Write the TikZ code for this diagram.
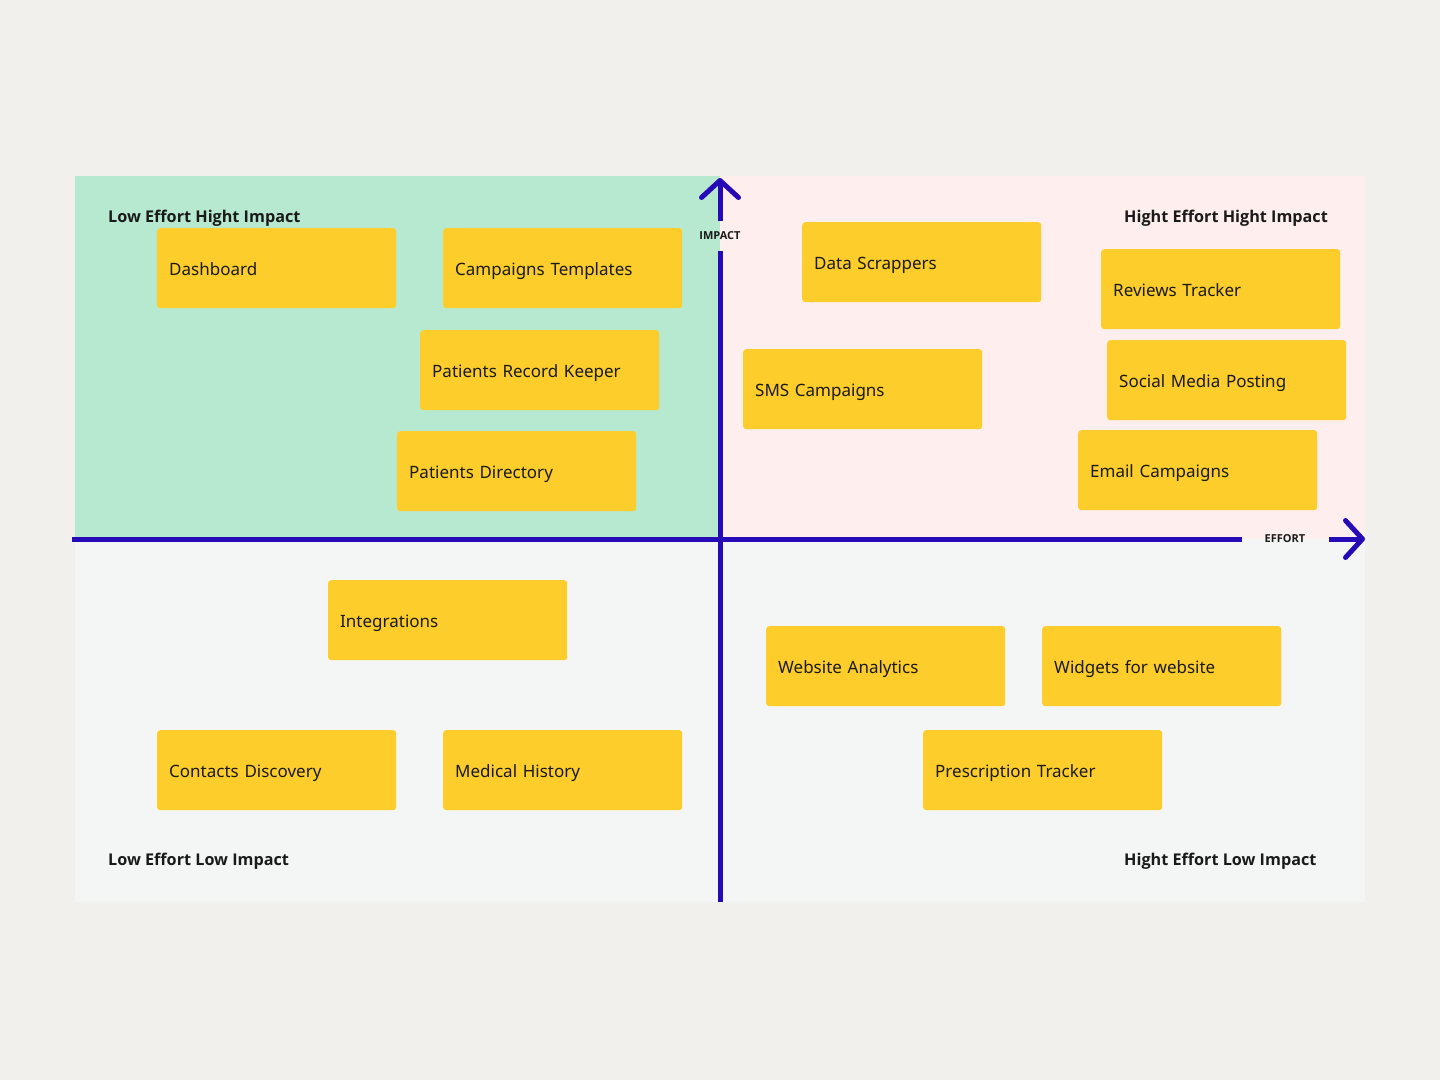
\documentclass[tikz,border=0pt]{standalone}
\usepackage{fontspec}
\setmainfont{Noto Sans}
\newfontfamily\titlefam{Open Sans}
\usetikzlibrary{arrows.meta}
\definecolor{bgc}{RGB}{242,240,237}
\definecolor{greenq}{RGB}{182,233,208}
\definecolor{pinkq}{RGB}{255,238,238}
\definecolor{greyq}{RGB}{243,246,244}
\definecolor{yel}{RGB}{253,205,43}
\definecolor{axisc}{RGB}{38,10,184}
\definecolor{ink}{RGB}{26,26,26}
\tikzset{
  sticky/.style={fill=yel, rounded corners=3pt, anchor=north west,
    minimum width=239pt, minimum height=80pt, text width=215pt,
    inner xsep=12pt, align=left, text=ink, text height=17pt, text depth=2pt,
    font=\fontsize{17}{20}\selectfont},
  qtitle/.style={anchor=base west, text=ink, inner sep=0pt,
    font=\titlefam\bfseries\fontsize{16.2}{20}\selectfont},
  axlabel/.style={text=ink, inner sep=0pt, font=\titlefam\bfseries\fontsize{11}{13}\selectfont},
  axisline/.style={draw=axisc, line width=5pt},
  axistip/.style={axisline, -{Straight Barb[length=17pt,width=37pt,round]}}
}
\begin{document}
\begin{tikzpicture}[x=1pt,y=-1pt]
\useasboundingbox (0,0) rectangle (1440,1080);
\fill[bgc] (0,0) rectangle (1440,1080);
\fill[greenq] (75,176) rectangle (720,539);
\fill[pinkq] (720,176) rectangle (1365,539);
\fill[greyq] (75,539) rectangle (1365,902);

% quadrant titles
\node[qtitle] (t1) at (108,222) {Low Effort Hight Impact};
\node[qtitle] (t2) at (1124,222) {Hight Effort Hight Impact};
\node[qtitle] (t3) at (108,865) {Low Effort Low Impact};
\node[qtitle] (t4) at (1124,865) {Hight Effort Low Impact};

% axes labels
\node[axlabel] (impact) at (720,236) {IMPACT};
\node[axlabel] (effort) at (1285,539) {EFFORT};

% axes
\coordinate (vtop) at (720,178);
\coordinate (vbot) at (720,902);
\coordinate (hleft) at (72,539);
\coordinate (hright) at (1365,539);
\coordinate (vgapT) at (720,221);
\coordinate (vgapB) at (720,251);
\coordinate (hgapL) at (1242,539);
\coordinate (hgapR) at (1329,539);
\draw[axisline] (vbot) -- (vgapB);
\draw[axistip] (vgapT) -- (vtop);
\draw[axisline] (hleft) -- (hgapL);
\draw[axistip] (hgapR) -- (hright);

% stickies
\node[sticky] (dash) at (157,228) {Dashboard};
\node[sticky] (camp) at (443,228) {Campaigns Templates};
\node[sticky] (prk) at (420,330) {Patients Record Keeper};
\node[sticky] (pdir) at (397,431) {Patients Directory};
\node[sticky] (data) at (802,222) {Data Scrappers};
\node[sticky] (rev) at (1101,249) {Reviews Tracker};
\node[sticky] (soc) at (1107,340) {Social Media Posting};
\node[sticky] (sms) at (743,349) {SMS Campaigns};
\node[sticky] (email) at (1078,430) {Email Campaigns};
\node[sticky] (integ) at (328,580) {Integrations};
\node[sticky] (web) at (766,626) {Website Analytics};
\node[sticky] (widg) at (1042,626) {Widgets for website};
\node[sticky] (cont) at (157,730) {Contacts Discovery};
\node[sticky] (med) at (443,730) {Medical History};
\node[sticky] (presc) at (923,730) {Prescription Tracker};
\end{tikzpicture}
\end{document}
